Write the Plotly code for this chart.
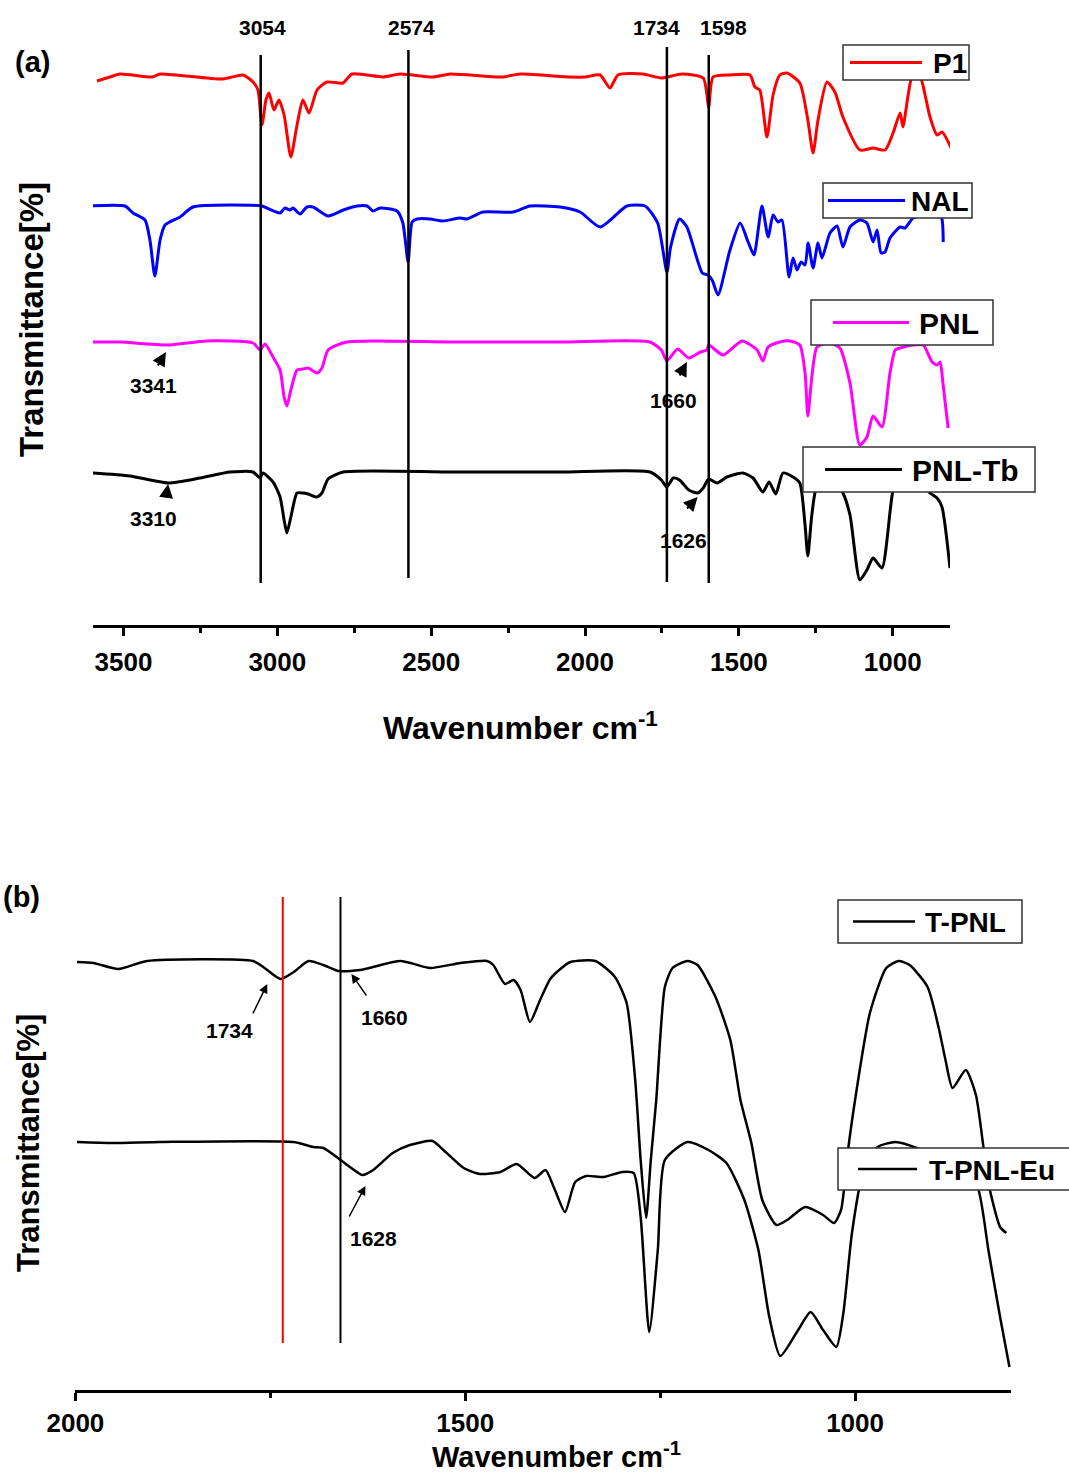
import plotly.graph_objects as go

W, H = 1069, 1477
FONT = "Liberation Sans, Arial, Helvetica, sans-serif"

# ---------------- Panel (a) data: wavenumber (cm-1) and transmittance (a.u., stacked) ----------------
wn_P1 = [3586, 3544, 3511, 3407, 3381, 3177, 3112, 3079, 3063, 3050, 3037, 3027, 3011, 2995, 2978,
         2956, 2936, 2917, 2897, 2871, 2839, 2787, 2757, 2657, 2601, 2494, 2438, 2270, 2211, 2049,
         2000, 1951, 1919, 1893, 1812, 1752, 1685, 1616, 1598, 1584, 1529, 1464, 1448, 1432, 1409,
         1389, 1367, 1344, 1302, 1276, 1259, 1243, 1214, 1188, 1162, 1107, 1064, 1025, 999, 976,
         967, 950, 937, 911, 895, 879, 856, 840, 804]
T_P1 = [108.8, 109.6, 110.2, 109.6, 110.2, 109.2, 110.0, 108.6, 107.0, 100.0, 105.0, 106.4, 103.0, 105.0, 102.0,
        93.6, 100.0, 105.0, 102.4, 107.0, 108.6, 108.4, 110.2, 109.6, 110.2, 109.6, 110.2, 109.6, 110.2, 109.6,
        109.6, 110.0, 107.4, 110.0, 110.2, 109.4, 110.2, 109.4, 103.6, 109.6, 110.0, 110.0, 107.6, 107.0, 97.6,
        106.0, 110.0, 110.4, 108.4, 101.0, 94.4, 101.0, 108.6, 106.6, 101.6, 95.0, 95.4, 95.0, 98.4, 102.4,
        99.6, 106.0, 109.6, 109.6, 106.0, 101.6, 98.0, 98.6, 94.6]

wn_NAL = [3615, 3495, 3469, 3430, 3414, 3398, 3381, 3365, 3316, 3274, 3050, 3034, 2991, 2975, 2959,
          2949, 2926, 2904, 2884, 2835, 2786, 2741, 2708, 2689, 2666, 2611, 2592, 2575, 2562, 2546,
          2504, 2462, 2406, 2384, 2332, 2234, 2179, 2081, 2016, 1951, 1864, 1805, 1764, 1734, 1722,
          1693, 1669, 1619, 1601, 1587, 1568, 1529, 1496, 1470, 1451, 1425, 1405, 1389, 1373, 1360,
          1337, 1324, 1311, 1298, 1285, 1275, 1259, 1243, 1230, 1204, 1181, 1162, 1139, 1107, 1084,
          1064, 1051, 1038, 1025, 1009, 976, 960, 934, 895, 863, 842, 836]
T_NAL = [83.8, 83.8, 82.4, 81.0, 77.0, 69.8, 77.0, 80.0, 81.6, 83.6, 83.8, 83.4, 82.4, 83.4, 83.0,
         83.4, 82.2, 83.6, 83.6, 81.8, 83.0, 83.8, 83.8, 82.8, 83.4, 82.8, 80.4, 72.6, 80.6, 81.2,
         81.2, 80.8, 81.4, 81.2, 82.6, 82.6, 83.8, 83.6, 82.6, 79.6, 83.8, 83.8, 80.4, 70.6, 75.6,
         81.2, 79.6, 70.4, 70.0, 69.0, 66.0, 75.0, 80.4, 76.6, 74.0, 83.8, 77.6, 82.0, 80.6, 81.0,
         69.6, 73.4, 71.0, 72.6, 72.0, 76.4, 71.4, 76.4, 73.4, 78.4, 79.8, 75.6, 79.6, 81.0, 80.4,
         76.6, 79.0, 74.4, 74.6, 77.4, 79.6, 79.4, 81.4, 82.0, 82.4, 81.6, 76.6]

wn_PNL = [3602, 3511, 3359, 3229, 3079, 3056, 3040, 3014, 2991, 2978, 2969, 2956, 2936, 2917, 2900,
          2871, 2855, 2835, 2774, 2438, 2081, 1789, 1752, 1734, 1699, 1663, 1625, 1604, 1598, 1552,
          1490, 1441, 1422, 1405, 1367, 1334, 1302, 1285, 1276, 1263, 1246, 1204, 1172, 1139, 1107,
          1084, 1064, 1035, 1009, 992, 976, 934, 901, 872, 856, 846, 837, 820]
T_PNL = [56.6, 56.6, 56.0, 56.8, 56.4, 55.0, 56.2, 53.6, 51.0, 45.6, 43.8, 47.0, 51.0, 51.2, 51.4,
         50.4, 51.4, 55.0, 56.6, 56.6, 56.6, 56.6, 55.0, 52.8, 55.2, 53.4, 54.6, 55.0, 56.0, 54.0,
         56.8, 55.0, 52.8, 55.6, 56.6, 56.8, 56.0, 50.4, 41.8, 49.6, 55.6, 56.4, 55.4, 48.4, 36.0,
         37.6, 41.8, 39.6, 50.4, 55.0, 55.4, 56.0, 56.0, 52.6, 52.0, 52.6, 48.4, 39.4]

wn_PNLTb = [3602, 3479, 3355, 3251, 3154, 3079, 3056, 3047, 3014, 2991, 2978, 2969, 2956, 2936, 2917,
            2900, 2871, 2855, 2835, 2786, 2438, 2081, 1789, 1752, 1734, 1713, 1693, 1663, 1634, 1616,
            1598, 1571, 1539, 1487, 1454, 1422, 1402, 1380, 1357, 1324, 1302, 1285, 1276, 1263, 1246,
            1204, 1162, 1139, 1107, 1084, 1064, 1035, 999, 976, 927, 879, 856, 840, 814]
T_PNLTb = [30.4, 29.8, 28.4, 29.4, 30.6, 30.6, 29.4, 30.4, 28.6, 25.6, 21.0, 18.4, 21.6, 26.4, 26.4,
           26.2, 25.6, 26.4, 29.2, 30.6, 30.6, 30.6, 30.6, 29.0, 27.6, 29.4, 29.0, 27.0, 26.4, 27.4,
           29.2, 28.4, 29.6, 30.4, 29.4, 26.6, 28.6, 26.2, 30.4, 29.6, 28.4, 20.0, 13.8, 22.0, 28.0,
           30.0, 26.4, 22.0, 9.0, 11.0, 13.4, 11.4, 27.0, 30.0, 30.4, 26.4, 25.4, 23.6, 11.4]

# ---------------- Panel (b) data ----------------
wn_TPNL = [1998, 1977, 1945, 1908, 1772, 1759, 1737, 1720, 1701, 1682, 1663, 1635, 1583, 1545, 1506,
           1472, 1464, 1449, 1438, 1429, 1417, 1404, 1391, 1378, 1365, 1333, 1308, 1293, 1282, 1275,
           1268, 1262, 1255, 1244, 1234, 1215, 1202, 1179, 1160, 1147, 1133, 1119, 1101, 1087, 1064,
           1041, 1027, 1018, 1009, 1000, 981, 960, 944, 930, 907, 893, 884, 875, 858, 845,
           829, 814, 806]
T_TPNL = [85.6, 85.4, 84.2, 85.8, 85.8, 84.6, 82.2, 83.6, 85.8, 85.0, 83.8, 84.0, 85.8, 84.4, 85.4,
          85.8, 85.0, 81.2, 82.0, 80.0, 73.6, 78.0, 82.2, 84.2, 85.6, 85.8, 82.6, 77.4, 62.0, 46.0,
          34.4, 46.0, 58.0, 80.6, 84.4, 85.8, 85.0, 78.6, 70.0, 58.0, 49.4, 38.0, 33.0, 34.0, 36.6,
          35.0, 33.4, 36.0, 48.0, 58.0, 75.4, 84.4, 85.8, 85.0, 80.6, 72.6, 66.0, 60.4, 64.0, 59.0,
          41.4, 32.6, 31.4]

wn_TPNLEu = [1998, 1952, 1891, 1720, 1695, 1682, 1660, 1648, 1632, 1618, 1593, 1571, 1542, 1528, 1502,
             1481, 1455, 1434, 1411, 1397, 1386, 1372, 1359, 1345, 1322, 1299, 1284, 1275, 1264, 1253,
             1244, 1215, 1188, 1165, 1142, 1124, 1110, 1096, 1073, 1057, 1041, 1024, 1015, 1004, 990,
             971, 948, 921, 890, 860, 843, 829, 814, 802]
T_TPNLEu = [49.6, 49.4, 49.6, 49.6, 48.6, 48.4, 46.0, 44.6, 43.0, 44.0, 47.4, 49.0, 49.8, 48.0, 44.4,
            43.2, 43.6, 45.2, 42.4, 44.0, 40.4, 35.6, 41.6, 42.8, 42.6, 43.6, 43.4, 34.6, 11.6, 28.0,
            46.0, 49.6, 48.0, 45.4, 38.0, 28.0, 14.6, 6.8, 12.0, 15.6, 12.0, 8.6, 15.4, 31.4, 43.4,
            48.6, 49.6, 48.4, 46.0, 43.0, 40.6, 28.0, 14.6, 4.6]

# reference lines and peak labels
lines_a = [3054, 2574, 1734, 1598]
lines_a_labels = ["3054", "2574", "1734", "1598"]
lines_b = [1734, 1660]
lines_b_colors = ["#ff0000", "#000000"]

series_a = [("P1", wn_P1, T_P1, "#ff0000"), ("NAL", wn_NAL, T_NAL, "#0000ff"),
            ("PNL", wn_PNL, T_PNL, "#ff00ff"), ("PNL-Tb", wn_PNLTb, T_PNLTb, "#000000")]
series_b = [("T-PNL", wn_TPNL, T_TPNL, "#000000"), ("T-PNL-Eu", wn_TPNLEu, T_TPNLEu, "#000000")]


def P(px, py):
    return px / W, 1 - py / H


fig = go.Figure()
for name, x, y, c in series_a:
    fig.add_trace(go.Scatter(x=x, y=y, mode="lines", name=name, showlegend=False,
                             line=dict(color=c, width=3, shape="spline", smoothing=0.6),
                             xaxis="x", yaxis="y"))
for name, x, y, c in series_b:
    fig.add_trace(go.Scatter(x=x, y=y, mode="lines", name=name, showlegend=False,
                             line=dict(color=c, width=2.5, shape="spline", smoothing=0.6),
                             xaxis="x2", yaxis="y2"))

tickfont = dict(family=FONT, size=26, color="black", weight="bold")


def xax(standoff):
    return dict(showline=True, linecolor="black", linewidth=3, ticks="outside", tickcolor="black",
                tickwidth=3, ticklen=8, tick0=1000, dtick=500, showgrid=False, zeroline=False,
                tickfont=tickfont, ticklabelstandoff=standoff, automargin=False,
                minor=dict(tick0=1000, dtick=250, ticks="outside", ticklen=5, tickwidth=2.5,
                           tickcolor="black", showgrid=False))


fig.update_layout(
    width=W, height=H, margin=dict(l=0, r=0, t=0, b=0, autoexpand=False),
    paper_bgcolor="white", plot_bgcolor="white", showlegend=False,
    xaxis=dict(domain=[93 / W, 950 / W], range=[3599, 814], anchor="y", **xax(4)),
    yaxis=dict(domain=[1 - 625 / H, 1 - 40 / H], range=[0, 117], visible=False, anchor="x"),
    xaxis2=dict(domain=[75.4 / W, 1011 / W], range=[2000, 800], anchor="y2", **xax(0)),
    yaxis2=dict(domain=[1 - 1390 / H, 1 - 890 / H], range=[0, 100], visible=False, anchor="x2"),
)

shapes = []
# vertical marker lines (a)
a_extent = [(8.4, 114.0), (9.4, 115.0), (8.6, 115.6), (8.4, 114.0)]
for xv, (y0, y1) in zip(lines_a, a_extent):
    shapes.append(dict(type="line", xref="x", yref="y", x0=xv, x1=xv, y0=y0, y1=y1,
                       line=dict(color="black", width=2.5)))
for xv, c in zip(lines_b, lines_b_colors):
    shapes.append(dict(type="line", xref="x2", yref="y2", x0=xv, x1=xv, y0=9.4, y1=98.6,
                       line=dict(color=c, width=2)))

# legend boxes (drawn as boxes so that the long line samples match)
legends = [
    ("P1", "#ff0000", (843, 45, 969, 80), (850, 922), 950, 28, 3),
    ("NAL", "#0000ff", (823, 183, 972, 218), (828, 905), 940, 28, 3),
    ("PNL", "#ff00ff", (811, 300, 993, 345), (833, 909), 949, 30, 3),
    ("PNL-Tb", "#000000", (803, 447, 1035, 492), (825, 902), 966, 30, 3),
    ("T-PNL", "#000000", (838, 900, 1022, 943), (853, 915), 966, 28, 2.5),
    ("T-PNL-Eu", "#000000", (838, 1148, 1075, 1190), (858, 917), 992, 28, 2.5),
]
annotations = []
for text, c, (x0, y0, x1, y1), (lx0, lx1), tx, fs, lw in legends:
    a0 = P(x0, y0); a1 = P(x1, y1)
    shapes.append(dict(type="rect", xref="paper", yref="paper", x0=a0[0], x1=a1[0], y0=a1[1], y1=a0[1],
                       fillcolor="white", line=dict(color="#333333", width=1.5)))
    ym = (y0 + y1) / 2
    shapes.append(dict(type="line", xref="paper", yref="paper", x0=lx0 / W, x1=lx1 / W,
                       y0=1 - ym / H, y1=1 - ym / H, line=dict(color=c, width=lw)))
    p = P(tx, ym + 1)
    annotations.append(dict(xref="paper", yref="paper", x=p[0], y=p[1], text=f"<b>{text}</b>",
                            showarrow=False, xanchor="center", yanchor="middle",
                            font=dict(family=FONT, size=fs, color="black")))


def label(text, px, py, size, angle=0):
    p = P(px, py)
    annotations.append(dict(xref="paper", yref="paper", x=p[0], y=p[1], text=f"<b>{text}</b>",
                            showarrow=False, xanchor="center", yanchor="middle", textangle=angle,
                            font=dict(family=FONT, size=size, color="black")))


# titles and panel labels
label("(a)", 32, 62, 29)
label("(b)", 21, 897, 29)
label("Wavenumber cm<sup>-1</sup>", 520, 726, 32)
label("Wavenumber cm<sup>-1</sup>", 556, 1455, 29)
label("Transmittance[%]", 31, 320, 33, -90)
label("Transmittance[%]", 28, 1143, 31, -90)
for t, px in zip(lines_a_labels, [262, 411, 656, 723]):
    label(t, px, 28, 21)
# peak labels
for t, px, py in [("3341", 153, 386), ("3310", 153, 518), ("1660", 673, 400), ("1626", 683, 541),
                  ("1734", 229, 1030), ("1660", 384, 1018), ("1628", 373, 1238)]:
    label(t, px, py, 21)

# arrows pointing at peaks
arrows_a = [(3362, 54.6, -9, 15), (3355, 28.2, -2, 14), (1669, 52.6, -8, 15), (1634, 25.6, -12, 13)]
for x, y, ax, ay in arrows_a:
    annotations.append(dict(xref="x", yref="y", x=x, y=y, ax=ax, ay=ay, text="", showarrow=True,
                            arrowhead=2, arrowsize=1.4, arrowwidth=2, arrowcolor="black"))
arrows_b = [(1754, 81.2, -15, 31), (1646, 83.2, 16, 23), (1628, 40.8, -17, 32)]
for x, y, ax, ay in arrows_b:
    annotations.append(dict(xref="x2", yref="y2", x=x, y=y, ax=ax, ay=ay, text="", showarrow=True,
                            arrowhead=2, arrowsize=1.2, arrowwidth=1.5, arrowcolor="black"))

fig.update_layout(shapes=shapes, annotations=annotations)
fig.write_html("out.html", config={"displayModeBar": False},
               post_script="document.body.style.margin='0';document.body.style.overflow='hidden';")
